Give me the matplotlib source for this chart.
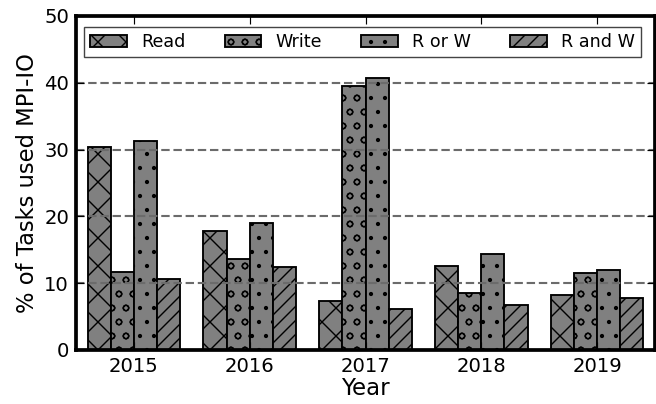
import numpy as np
import matplotlib
matplotlib.use("Agg")
import matplotlib.pyplot as plt

# 年ごとの MPI-IO 利用率 (%)
years = ["2015", "2016", "2017", "2018", "2019"]
read = [30.4, 17.8, 7.3, 12.5, 8.3]
write = [11.7, 13.6, 39.5, 8.6, 11.5]
r_or_w = [31.3, 19.0, 40.7, 14.3, 11.9]
r_and_w = [10.6, 12.4, 6.1, 6.8, 7.8]

series = [("Read", read, "xx"), ("Write", write, "oo"),
          ("R or W", r_or_w, ".."), ("R and W", r_and_w, "////")]

plt.rcParams["hatch.linewidth"] = 0.6
plt.rcParams["font.family"] = ["DejaVu Sans"]

dpi = 168
fig = plt.figure(figsize=(656 / dpi, 404 / dpi), dpi=dpi)
ax = fig.add_axes([0.1159, 0.1337, 0.8826, 0.8267])

x = np.arange(len(years))
w = 0.2
for i, (name, vals, hatch) in enumerate(series):
    ax.bar(x - 0.3 + i * w, vals, w, color="#808080", edgecolor="black",
           linewidth=0.8, hatch=hatch, label=name, zorder=1)

ax.set_xlim(-0.5, 4.5)
ax.set_ylim(0, 50)
ax.set_xticks(x)
ax.set_xticklabels(years)
ax.set_yticks(range(0, 51, 10))
ax.set_axisbelow(False)
ax.yaxis.grid(True, color="0.42", linewidth=0.9, linestyle=(0, (4.0, 1.8)),
              zorder=2)

for s in ax.spines.values():
    s.set_linewidth(1.6)
    s.set_zorder(3)
ax.tick_params(direction="in", top=True, right=True, length=3.5, width=0.5,
               labelsize=8.4, pad=3)

ax.set_xlabel("Year", fontsize=9.8, labelpad=0.5)
ax.set_ylabel("% of Tasks used MPI-IO", fontsize=9.7, labelpad=2)

leg = ax.legend(ncol=4, loc="lower left", mode="expand",
                bbox_to_anchor=(0.0138, 0.877, 0.962, 0.095), borderaxespad=0,
                fontsize=7.5, fancybox=False, handlelength=2.1,
                framealpha=1, borderpad=0.35)
leg.get_frame().set_edgecolor("#444444")
leg.get_frame().set_linewidth(0.6)
leg.set_zorder(4)

fig.savefig("out.png", dpi=dpi)
